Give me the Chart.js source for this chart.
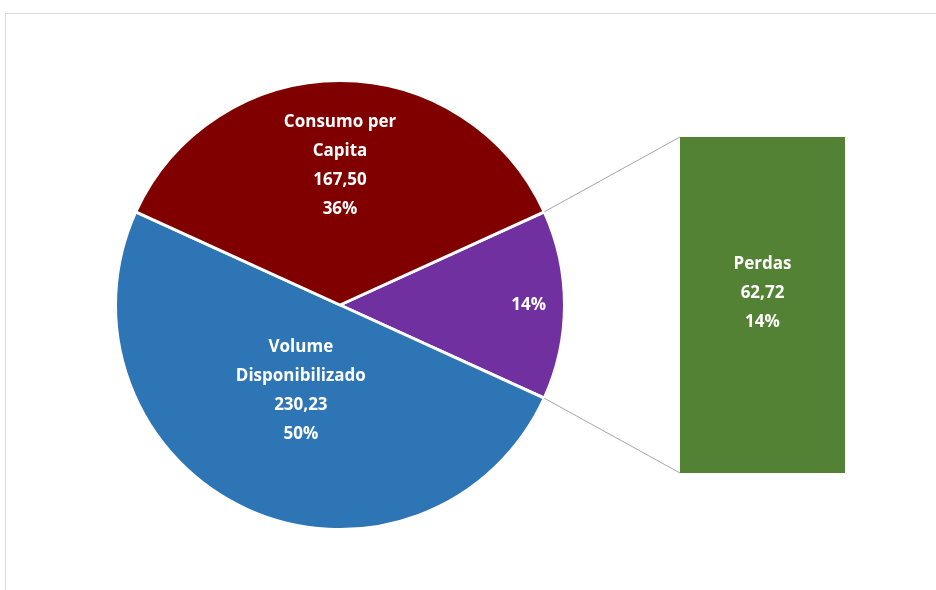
<!DOCTYPE html>
<html>
<head>
<meta charset="utf-8">
<script src="https://cdn.jsdelivr.net/npm/chart.js@4.4.0/dist/chart.umd.min.js"></script>
<style>
  html, body { margin: 0; padding: 0; background: #fff; overflow: hidden; }
  .frame { position: absolute; left: 5px; top: 13px; width: 1000px; height: 1000px; border: 1px solid #d9d9d9; }
  canvas { position: absolute; left: 0; top: 0; }
</style>
</head>
<body>
<div class="frame"></div>
<canvas id="pieChart" width="936" height="590"></canvas>
<canvas id="barChart" width="936" height="590"></canvas>
<script>
// ---- data ----
const pieLabels = ['Outros', 'Volume Disponibilizado', 'Consumo per Capita'];
const pieValues = [62.72, 230.23, 167.50];
const barLabels = ['Perdas'];
const barValues = [62.72];

// label line breaks as Excel wrapped them
const pieLabelLines = [[], ['Volume', 'Disponibilizado'], ['Consumo per', 'Capita']];
const pieShowValue = [false, true, true];

const pieColors = ['#7030a0', '#2e75b6', '#800000'];
const barColor = '#548235';
const labelFont = 'bold 17px "Open Sans", Lato, sans-serif';
const lineH = 29;
// how far out (fraction of radius) each pie label sits
const labelDist = [0.84, 0.42, 0.62];

const total = pieValues.reduce((a, b) => a + b, 0);
const fmt = v => v.toFixed(2).replace('.', ',');
const pct = v => Math.round(v / total * 100) + '%';

// the "other" slice is centred on the right, like Excel's bar of pie
const firstSweep = pieValues[0] / total * 360;
const startRot = 90 - firstSweep / 2;

function drawLines(ctx, lines, x, y) {
    ctx.save();
    ctx.font = labelFont;
    ctx.fillStyle = '#fff';
    ctx.textAlign = 'center';
    ctx.textBaseline = 'middle';
    const top = y - (lines.length - 1) * lineH / 2;
    lines.forEach((t, i) => ctx.fillText(t, x, top + i * lineH));
    ctx.restore();
}

const pieLabelPlugin = {
    id: 'pieLabels',
    afterDatasetsDraw(chart) {
        const ctx = chart.ctx;
        chart.getDatasetMeta(0).data.forEach((arc, i) => {
            const mid = (arc.startAngle + arc.endAngle) / 2;
            const r = arc.outerRadius * labelDist[i];
            const x = arc.x + Math.cos(mid) * r;
            const y = arc.y + Math.sin(mid) * r;
            const lines = pieLabelLines[i].slice();
            if (pieShowValue[i]) lines.push(fmt(pieValues[i]));
            lines.push(pct(pieValues[i]));
            drawLines(ctx, lines, x, y);
        });
    }
};

const pieChart = new Chart(document.getElementById('pieChart'), {
    type: 'pie',
    data: {
        labels: pieLabels,
        datasets: [{
            data: pieValues,
            backgroundColor: pieColors,
            borderColor: '#ffffff',
            borderWidth: 3
        }]
    },
    options: {
        responsive: false,
        animation: false,
        events: [],
        rotation: startRot,
        layout: { padding: { left: 114, right: 370, top: 79, bottom: 59 } },
        plugins: { legend: { display: false }, tooltip: { enabled: false } }
    },
    plugins: [pieLabelPlugin]
});

// connector lines from the "other" slice to the bar, plus the bar label
const barExtras = {
    id: 'barExtras',
    afterDatasetsDraw(chart) {
        const ctx = chart.ctx;
        const arc = pieChart.getDatasetMeta(0).data[0];
        const bar = chart.getDatasetMeta(0).data[0];
        const left = bar.x - bar.width / 2;
        const top = Math.min(bar.y, bar.base);
        const bottom = Math.max(bar.y, bar.base);
        const p1 = [arc.x + Math.cos(arc.startAngle) * arc.outerRadius, arc.y + Math.sin(arc.startAngle) * arc.outerRadius];
        const p2 = [arc.x + Math.cos(arc.endAngle) * arc.outerRadius, arc.y + Math.sin(arc.endAngle) * arc.outerRadius];
        ctx.save();
        ctx.strokeStyle = '#a6a6a6';
        ctx.lineWidth = 1;
        ctx.beginPath();
        ctx.moveTo(p1[0], p1[1]);
        ctx.lineTo(left, top);
        ctx.moveTo(p2[0], p2[1]);
        ctx.lineTo(left, bottom);
        ctx.stroke();
        ctx.restore();

        drawLines(ctx, [barLabels[0], fmt(barValues[0]), pct(barValues[0])], bar.x, (top + bottom) / 2 - 12);
    }
};

new Chart(document.getElementById('barChart'), {
    type: 'bar',
    data: {
        labels: [''],
        datasets: barLabels.map((name, i) => ({
            label: name,
            data: [barValues[i]],
            backgroundColor: barColor,
            barPercentage: 1,
            categoryPercentage: 1,
            stack: 'other'
        }))
    },
    options: {
        responsive: false,
        animation: false,
        events: [],
        layout: { padding: { left: 680, right: 91, top: 137, bottom: 117 } },
        scales: {
            x: { display: false, stacked: true },
            y: { display: false, stacked: true, min: 0, max: barValues.reduce((a, b) => a + b, 0) }
        },
        plugins: { legend: { display: false }, tooltip: { enabled: false } }
    },
    plugins: [barExtras]
});
</script>
</body>
</html>
